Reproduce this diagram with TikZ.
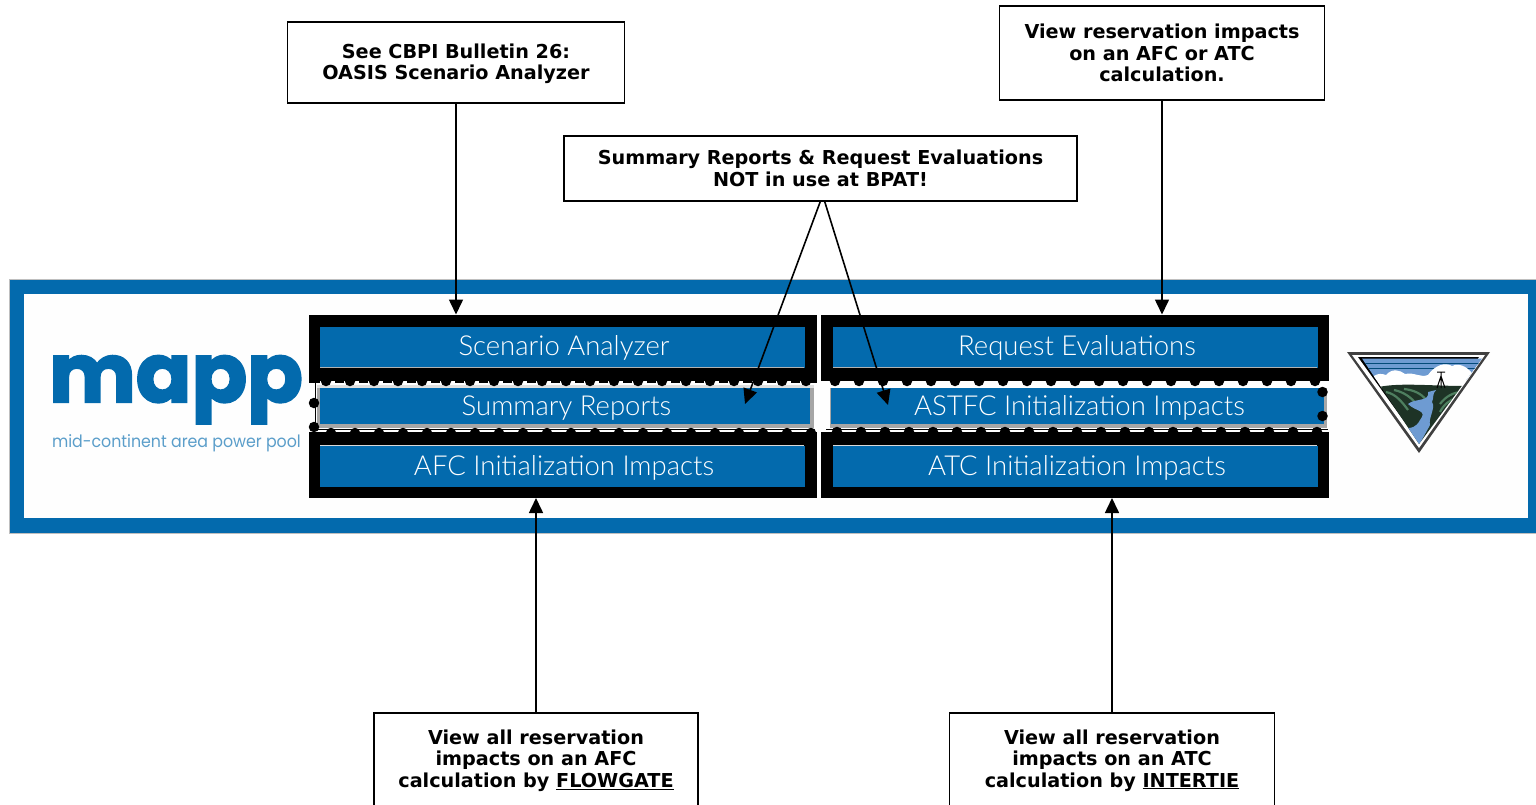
\documentclass[tikz,border=0pt]{standalone}
\usepackage{fontspec}
\usetikzlibrary{arrows.meta}
\setmainfont{DejaVu Sans}
\newfontfamily\btnfont{Lato Light}
\newfontfamily\logofont[BoldFeatures={FakeBold=2.5}]{Poppins}
\newfontfamily\tagfont{Poppins}
\definecolor{mappblue}{HTML}{036AAD}
\definecolor{bpasky}{HTML}{6E9BD2}
\definecolor{bpagreen}{HTML}{4E7F5F}
\definecolor{bpadark}{HTML}{1E3326}
\newcommand{\btntxt}[1]{\hspace*{4pt}#1}
\tikzset{
  x=1pt,y=-1pt,
  callout/.style={draw=black,line width=1.4pt,fill=white,align=center,inner sep=0pt,outer sep=0pt,
    font=\fontsize{19.2}{21.4}\selectfont\bfseries},
  framebox/.style={fill=black,inner sep=0pt,outer sep=0pt,minimum width=508pt,minimum height=66pt},
  bluebtn/.style={fill=mappblue,inner sep=0pt,outer sep=0pt,text=white,minimum width=485pt,minimum height=41pt,
    font=\fontsize{27.5}{30}\btnfont},
  midbtn/.style={bluebtn,minimum width=490pt,minimum height=36pt},
  bevel/.style={fill=gray!70,inner sep=0pt,outer sep=0pt},
  conn/.style={line width=1.6pt,-{Triangle[length=15pt,width=14pt]}},
  seldot/.style={fill=black,circle,inner sep=0pt,minimum size=10.5pt},
  seldash/.style={white,line width=1.8pt,dash pattern=on 15pt off 9pt},
}
\begin{document}
\begin{tikzpicture}
\useasboundingbox (0,0) rectangle (1536,805);
\clip (0,0) rectangle (1536,805);
\fill[white] (0,0) rectangle (1536,805);
% outer band
\fill[gray!50] (9,279) rectangle (1536,534);
\fill[mappblue] (10,280) rectangle (1536,533);
\fill[white!99.5!black] (24,294) rectangle (1528,518);
% logo
\node[inner sep=0pt,outer sep=0pt,anchor=base west,text=mappblue,font=\fontsize{82}{82}\logofont\bfseries] (mapp) at (49,402) {\scalebox{1.0}[1]{mapp}};
\node[inner sep=0pt,outer sep=0pt,anchor=base west,text=mappblue!65,font=\fontsize{17}{17}\tagfont] (mapptag) at (52,447) {\scalebox{0.93}[1]{mid-continent area power pool}};
% buttons
\node[framebox] (saframe) at (563,347.5) {};
\node[framebox] (refframe) at (1074.5,347.5) {};
\node[framebox] (afcframe) at (563,465) {};
\node[framebox] (atcframe) at (1074.5,465) {};
\fill[black] (309,378) rectangle (817,383);
\node[bevel,minimum width=497pt,minimum height=43pt] (srbevel) at (565.5,406.5) {};
\node[bevel,minimum width=497pt,minimum height=43pt] (asbevel) at (1078.5,406.5) {};
\fill[gray!25] (317,385) rectangle (814,388);
\fill[white] (830,385) rectangle (1327,388);
\node[bluebtn,text height=15pt,text depth=0pt] (sa) at (562,347.5) {\btntxt{Scenario Analyzer}};
\node[bluebtn,text height=15pt,text depth=0pt] (re) at (1075,347.5) {\btntxt{Request Evaluations}};
\node[midbtn,text height=19pt,text depth=0pt] (sr) at (564.5,406) {\btntxt{Summary Reports}};
\node[midbtn,minimum width=493pt,text height=19pt,text depth=0pt] (as) at (1077.5,406) {\btntxt{ASTFC Initialization Impacts}};
\node[bluebtn,text height=18pt,text depth=0pt] (afc) at (562,466) {\btntxt{AFC Initialization Impacts}};
\node[bluebtn,text height=18pt,text depth=0pt] (atc) at (1075,466) {\btntxt{ATC Initialization Impacts}};
\draw[gray!60,line width=1pt] (320,367.5) -- (804,367.5) (833,367.5) -- (1317,367.5);
\draw[gray!30,line width=1pt] (320,445.5) -- (804,445.5) (833,445.5) -- (1317,445.5);
% selection marks
\draw[black,line width=1pt] (315,381) -- (315,429.5) -- (812,429.5);
\draw[black,line width=1pt] (826,429.5) -- (1328,429.5);
\draw[seldash] (320,382) -- (810,382);
\draw[seldash] (320,431) -- (810,431);
\draw[seldash] (832,431) -- (1322,431);
\foreach \k in {0,...,20} {\node[seldot] (da\k) at ({326+24*\k},381) {};}
\foreach \k in {0,...,20} {\node[seldot] (db\k) at ({835+24*\k},381) {};}
\foreach \k in {0,...,20} {\node[seldot] (dc\k) at ({811-24*\k},433) {};}
\foreach \k in {0,...,20} {\node[seldot] (dd\k) at ({837+24*\k},432) {};}
\node[seldot] (dl1) at (314,403) {};
\node[seldot] (dl2) at (314,427) {};
\node[seldot] (dr1) at (1322.5,392) {};
\node[seldot] (dr2) at (1322.5,416) {};
% BPA logo
\fill[gray!50!black] (1347,352) -- (1490,352) -- (1419,453) -- cycle;
\fill[white] (1352,355) -- (1485,355) -- (1419,448) -- cycle;
\fill[black] (1358,357) -- (1479,357) -- (1419,442) -- cycle;
\begin{scope}
\clip (1362,358.5) -- (1482,358.5) -- (1419,444) -- cycle;
\fill[bpasky] (1350,355) rectangle (1490,380);
\draw[mappblue!70!black,line width=1pt] (1360,363) -- (1480,363) (1360,368) -- (1480,368);
\fill[white] (1368,388) .. controls (1370,375) and (1378,372) .. (1386,375)
  .. controls (1392,368) and (1400,370) .. (1405,374) .. controls (1415,372) and (1420,378) .. (1428,375)
  .. controls (1435,365) and (1445,362) .. (1452,366) .. controls (1460,362) and (1470,368) .. (1475,378)
  -- (1470,390) -- cycle;
\fill[bpadark] (1375,388) .. controls (1395,382) and (1430,386) .. (1465,386) -- (1440,450) -- (1400,450) -- cycle;
\draw[bpagreen,line width=2.2pt] (1386,392) .. controls (1396,394) and (1402,402) .. (1408,410)
  (1394,390) .. controls (1404,392) and (1412,398) .. (1416,404)
  (1404,389) .. controls (1414,390) and (1422,394) .. (1426,400)
  (1462,392) .. controls (1454,392) and (1446,396) .. (1440,404)
  (1456,398) .. controls (1450,400) and (1444,404) .. (1440,412);
\fill[bpasky] (1428,392) .. controls (1430,402) and (1415,398) .. (1408,404)
  .. controls (1416,412) and (1428,410) .. (1420,420) .. controls (1416,428) and (1410,428) .. (1408,428)
  -- (1419,445) -- (1430,425) .. controls (1428,418) and (1436,408) .. (1432,402) .. controls (1434,398) and (1432,394) .. (1436,390) -- cycle;
\draw[black,line width=1pt] (1441,388) -- (1441,372) (1437,372) -- (1445,372) (1437,388) -- (1441,376) -- (1445,388);
\end{scope}
% callouts
\node[callout,minimum width=337pt,minimum height=81pt] (cb) at (456,62.5) {\rule{0pt}{16.6pt}See CBPI Bulletin 26:\\OASIS Scenario Analyzer};
\node[callout,minimum width=325pt,minimum height=94pt] (vr) at (1162,53) {View reservation impacts\\on an AFC or ATC\\calculation.};
\node[callout,minimum width=513pt,minimum height=65pt] (nu) at (820.5,168.5) {Summary Reports \& Request Evaluations\\NOT in use at BPAT!};
\node[callout,minimum width=324pt,minimum height=95pt] (fg) at (536,760.5) {View all reservation\\impacts on an AFC\\calculation by \underline{FLOWGATE}};
\node[callout,minimum width=325pt,minimum height=95pt] (it) at (1112,760.5) {View all reservation\\impacts on an ATC\\calculation by \underline{INTERTIE}};
% connectors
\coordinate (srtip) at (745,404);
\coordinate (astip) at (888,405);
\draw[conn] (cb.south) -- (cb.south |- saframe.north);
\draw[conn] (vr.south) -- (vr.south |- refframe.north);
\draw[conn] (nu.south) -- (srtip);
\draw[conn] ([xshift=4pt]nu.south) -- (astip);
\draw[conn] (fg.north) -- (fg.north |- afcframe.south);
\draw[conn] (it.north) -- (it.north |- atcframe.south);
\end{tikzpicture}
\end{document}
